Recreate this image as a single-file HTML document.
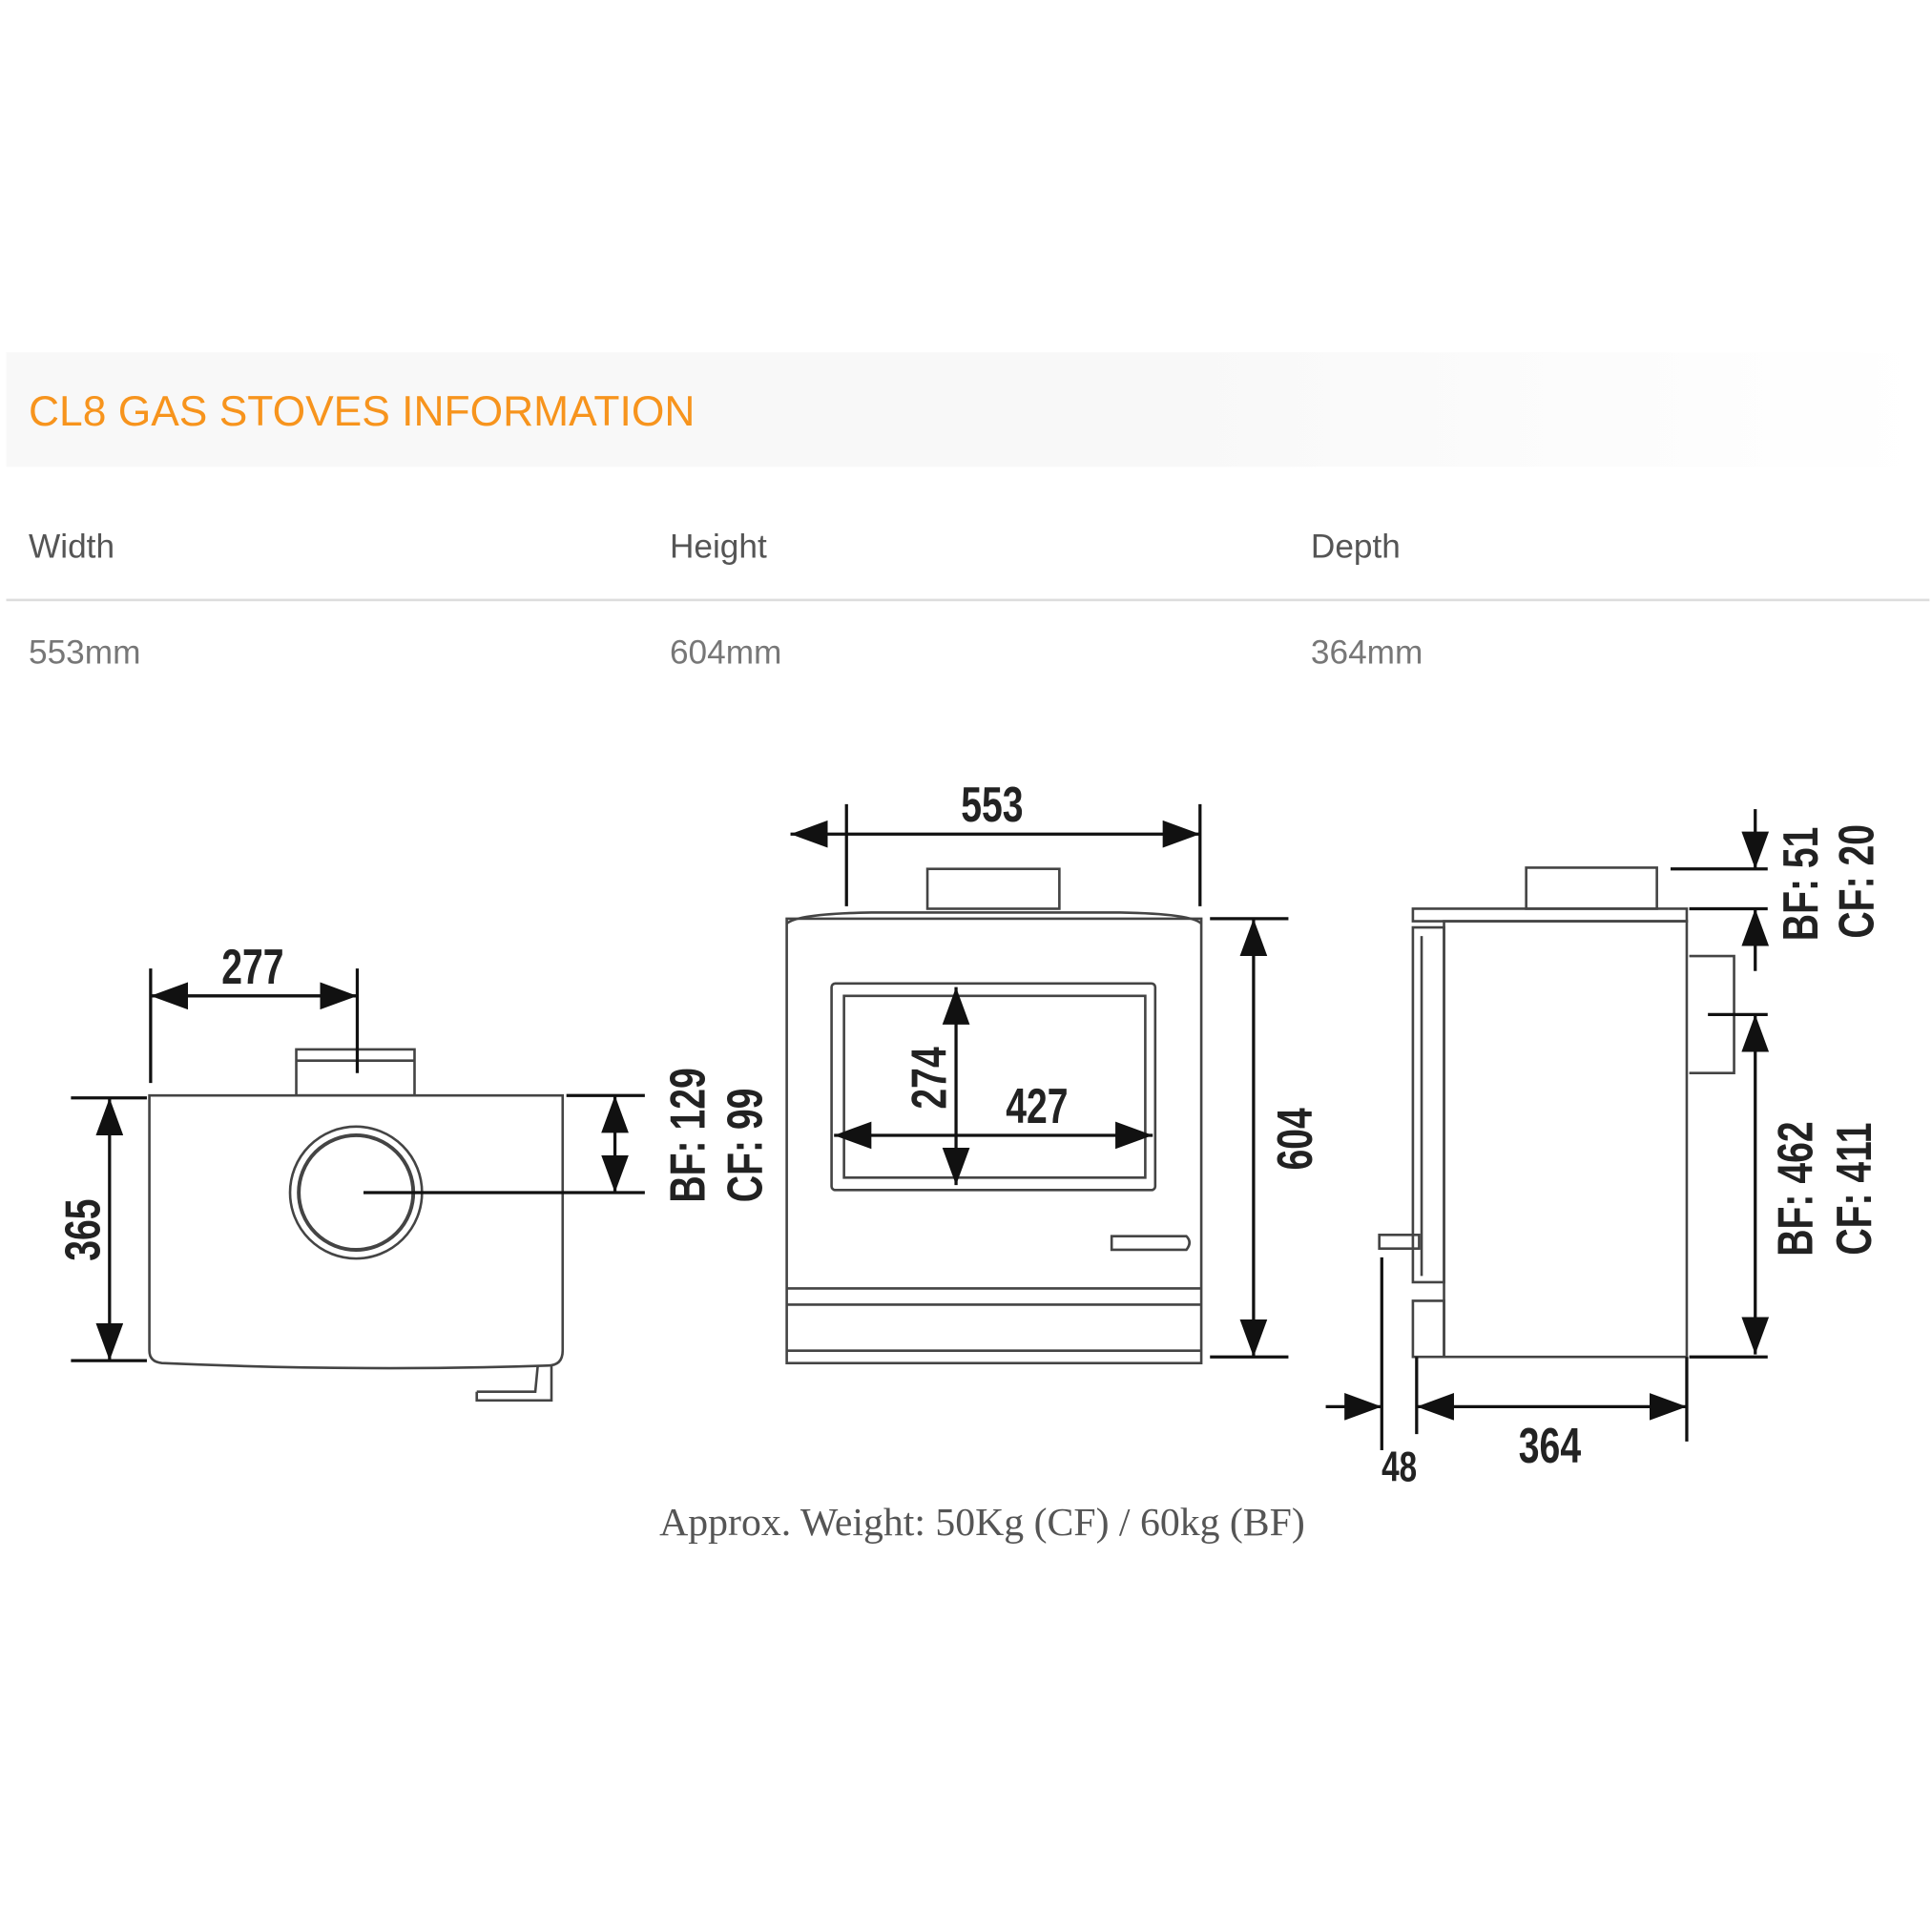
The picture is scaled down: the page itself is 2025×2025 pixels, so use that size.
<!DOCTYPE html>
<html><head><meta charset="utf-8"><style>
html,body{margin:0;padding:0;background:#fff;}
svg{display:block;}
.d{font-family:"Liberation Sans",sans-serif;font-size:40px;fill:#222;font-weight:bold;}
</style></head><body>
<svg width="2025" height="2025" viewBox="0 0 1552 1552" xmlns="http://www.w3.org/2000/svg">
<defs>
<linearGradient id="hg" x1="0" x2="1"><stop offset="0.6" stop-color="#f8f8f8"/><stop offset="1" stop-color="#fff"/></linearGradient>
<marker id="a" viewBox="0 0 30 22" refX="30" refY="11" markerWidth="30" markerHeight="22" markerUnits="userSpaceOnUse" orient="auto-start-reverse"><path d="M0,0 L30,11 L0,22 Z" fill="#111"/></marker>
</defs>
<rect x="5" y="283" width="1545" height="92" fill="url(#hg)"/>
<text x="23" y="342" font-family="Liberation Sans,sans-serif" font-size="34" fill="#f7941d">CL8 GAS STOVES INFORMATION</text>
<g font-family="Liberation Sans,sans-serif" font-size="27" fill="#555">
<text x="23" y="448">Width</text><text x="538" y="448">Height</text><text x="1053" y="448">Depth</text>
<text x="23" y="533" fill="#777">553mm</text><text x="538" y="533" fill="#777">604mm</text><text x="1053" y="533" fill="#777">364mm</text>
</g>
<rect x="5" y="481" width="1545" height="2" fill="#ddd"/>

<g stroke="#444" fill="none" stroke-width="2">
<path d="M120,880 H452 V1085 Q452,1097 440,1097 Q290,1102 130,1095 Q120,1094 120,1085 Z"/>
<rect x="238" y="843" width="95" height="37"/><line x1="238" y1="852" x2="333" y2="852"/>
<circle cx="286" cy="958" r="53"/><circle cx="286" cy="958" r="46" stroke-width="3"/>
<path d="M383,1118 H430 L432,1097 M443,1097 V1125 H383 V1118"/>
<rect x="632" y="738" width="333" height="357"/>
<path d="M632,742 Q640,734 700,733 H900 Q958,734 965,742"/>
<rect x="745" y="698" width="106" height="32"/>
<rect x="668" y="790" width="260" height="166" rx="3"/>
<rect x="678" y="800" width="242" height="146"/>
<path d="M632,1035 H965 M632,1048 H965 M632,1085 H965"/>
<path d="M893,993 H953 Q958,998 953,1004 H893 Z"/>
<rect x="1160" y="740" width="195" height="350"/>
<path d="M1135,730 H1355 V740 H1135 Z"/>
<rect x="1226" y="697" width="105" height="33"/>
<path d="M1357,768 H1393 V862 H1357"/>
<path d="M1135,745 H1160 V1030 H1135 Z M1142,752 V1025 M1135,1045 H1160 V1090 H1135 Z"/>
<path d="M1108,992 H1140 V1003 H1108 Z"/>
</g>

<g stroke="#111" stroke-width="2.5" fill="none">
<line x1="121" y1="778" x2="121" y2="870"/><line x1="287" y1="778" x2="287" y2="862"/>
<line x1="121" y1="800" x2="287" y2="800" marker-start="url(#a)" marker-end="url(#a)"/>
<line x1="57" y1="882" x2="118" y2="882"/><line x1="57" y1="1093" x2="118" y2="1093"/>
<line x1="88" y1="882" x2="88" y2="1093" marker-start="url(#a)" marker-end="url(#a)"/>
<line x1="455" y1="880" x2="518" y2="880"/><line x1="292" y1="958" x2="518" y2="958"/>
<line x1="494" y1="880" x2="494" y2="958" marker-start="url(#a)" marker-end="url(#a)"/>
<line x1="680" y1="646" x2="680" y2="728"/><line x1="964" y1="646" x2="964" y2="728"/>
<line x1="635" y1="670" x2="964" y2="670" marker-start="url(#a)" marker-end="url(#a)"/>
<line x1="972" y1="738" x2="1035" y2="738"/><line x1="972" y1="1090" x2="1035" y2="1090"/>
<line x1="1007" y1="738" x2="1007" y2="1090" marker-start="url(#a)" marker-end="url(#a)"/>
<line x1="768" y1="793" x2="768" y2="952" marker-start="url(#a)" marker-end="url(#a)"/>
<line x1="670" y1="912" x2="926" y2="912" marker-start="url(#a)" marker-end="url(#a)"/>
<line x1="1342" y1="698" x2="1420" y2="698"/><line x1="1357" y1="730" x2="1420" y2="730"/>
<line x1="1410" y1="650" x2="1410" y2="698" marker-end="url(#a)"/>
<line x1="1410" y1="780" x2="1410" y2="730" marker-end="url(#a)"/>
<line x1="1372" y1="815" x2="1420" y2="815"/><line x1="1357" y1="1090" x2="1420" y2="1090"/>
<line x1="1410" y1="815" x2="1410" y2="1088" marker-start="url(#a)" marker-end="url(#a)"/>
<line x1="1138" y1="1090" x2="1138" y2="1152"/><line x1="1355" y1="1090" x2="1355" y2="1158"/>
<line x1="1138" y1="1130" x2="1355" y2="1130" marker-start="url(#a)" marker-end="url(#a)"/>
<line x1="1110" y1="1010" x2="1110" y2="1165"/>
<line x1="1065" y1="1130" x2="1110" y2="1130" marker-end="url(#a)"/>
</g>

<g class="d">
<text transform="translate(203,790) scale(0.75,1)" text-anchor="middle">277</text>
<text transform="translate(80,988) rotate(-90) scale(0.75,1)" text-anchor="middle">365</text>
<text transform="translate(566,912) rotate(-90) scale(0.75,1)" text-anchor="middle">BF: 129</text>
<text transform="translate(612,920) rotate(-90) scale(0.75,1)" text-anchor="middle">CF: 99</text>
<text transform="translate(797,660) scale(0.75,1)" text-anchor="middle">553</text>
<text transform="translate(1054,915) rotate(-90) scale(0.75,1)" text-anchor="middle">604</text>
<text transform="translate(760,866) rotate(-90) scale(0.75,1)" text-anchor="middle">274</text>
<text transform="translate(833,902) scale(0.75,1)" text-anchor="middle">427</text>
<text transform="translate(1460,710) rotate(-90) scale(0.75,1)" text-anchor="middle">BF: 51</text>
<text transform="translate(1505,708) rotate(-90) scale(0.75,1)" text-anchor="middle">CF: 20</text>
<text transform="translate(1456,955) rotate(-90) scale(0.75,1)" text-anchor="middle">BF: 462</text>
<text transform="translate(1503,955) rotate(-90) scale(0.75,1)" text-anchor="middle">CF: 411</text>
<text transform="translate(1245,1175) scale(0.75,1)" text-anchor="middle">364</text>
<text transform="translate(1124,1190) scale(0.75,1)" text-anchor="middle" font-size="34">48</text>
</g>
<text x="789" y="1233" text-anchor="middle" font-family="Liberation Serif,serif" font-size="32" fill="#555">Approx. Weight: 50Kg (CF) / 60kg (BF)</text>
</svg>
</body></html>
